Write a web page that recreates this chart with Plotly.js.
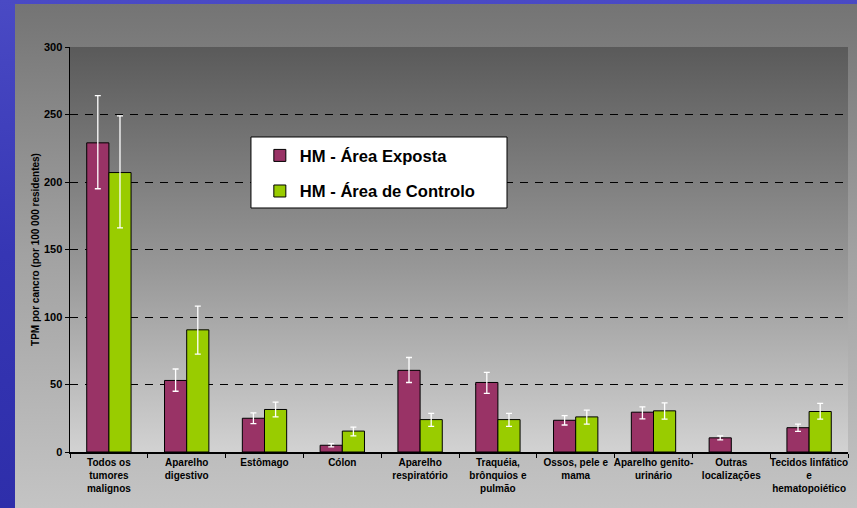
<!DOCTYPE html>
<html>
<head>
<meta charset="utf-8">
<script src="https://cdn.plot.ly/plotly-3.0.1.min.js"></script>
<style>
  html, body { margin:0; padding:0; width:857px; height:508px; overflow:hidden;
    background: linear-gradient(180deg, #4a4ac4 0%, #3636b4 50%, #2e2eaa 100%); }
  #panel { position:absolute; left:15px; top:4px; width:842px; height:504px;
    background: linear-gradient(180deg, #747474 0%, #a2a2a2 50%, #c4c4c4 100%); }
  #plotbg { position:absolute; left:70px; top:47px; width:778px; height:405px;
    background: linear-gradient(180deg, #5a5a5a 0%, #989898 55%, #d2d2d2 100%); }
  #chart { position:absolute; left:0; top:0; width:857px; height:508px; }
</style>
</head>
<body>
<div id="panel"></div>
<div id="plotbg"></div>
<div id="chart"></div>
<script>
const categories = [
  "Todos os<br>tumores<br>malignos",
  "Aparelho<br>digestivo",
  "Estômago",
  "Cólon",
  "Aparelho<br>respiratório",
  "Traquéia,<br>brônquios e<br>pulmão",
  "Ossos, pele e<br>mama",
  "Aparelho genito-<br>urinário",
  "Outras<br>localizações",
  "Tecidos linfático<br>e<br>hematopoiético"
];
const seriesNames = ["HM - Área Exposta", "HM - Área de Controlo"];

const exposta      = [229, 53, 25, 5, 60.5, 51.5, 23.5, 29.5, 10.5, 18];
const expostaUpper = [264, 61.5, 29, 6.2, 70, 59, 27, 33.5, 12, 20.7];
const expostaLower = [195, 45, 21, 3.8, 51.5, 43.5, 20, 24.6, 9, 15.3];

const controlo      = [207, 90.5, 31.5, 15.5, 24, 24, 26, 30.5, null, 30];
const controloUpper = [249, 108, 37, 18.5, 28.6, 28.6, 31, 36.4, null, 36];
const controloLower = [166, 72.5, 26, 12, 19, 19, 20.7, 24.4, null, 24.4];

function plus(v, u) { return v.map((x, i) => x == null ? null : u[i] - x); }
function minus(v, l) { return v.map((x, i) => x == null ? null : x - l[i]); }

const font = { family: "Liberation Sans, Arial, sans-serif", color: "#000" };

const traces = [
  {
    type: "bar", name: seriesNames[0], x: categories, y: exposta,
    legendgroup: "a",
    marker: { color: "#993366", line: { color: "#000", width: 1 } },
    error_y: { type: "data", symmetric: false, array: plus(exposta, expostaUpper),
      arrayminus: minus(exposta, expostaLower), color: "#ffffff", thickness: 1.3, width: 3 }
  },
  {
    type: "bar", name: seriesNames[1], x: categories, y: controlo,
    legendgroup: "b",
    marker: { color: "#99cc00", line: { color: "#000", width: 1 } },
    error_y: { type: "data", symmetric: false, array: plus(controlo, controloUpper),
      arrayminus: minus(controlo, controloLower), color: "#ffffff", thickness: 1.3, width: 3 }
  }
];

const layout = {
  width: 857, height: 508,
  margin: { l: 70, r: 9, t: 47, b: 56, pad: 0 },
  paper_bgcolor: "rgba(0,0,0,0)",
  plot_bgcolor: "rgba(0,0,0,0)",
  barmode: "group", bargap: 0.43, bargroupgap: 0,
  showlegend: true,
  legend: {
    x: 0.244, y: 0.775, xanchor: "left", yanchor: "top",
    bgcolor: "rgba(0,0,0,0)", borderwidth: 0,
    tracegroupgap: 11, itemwidth: 30,
    font: Object.assign({}, font, { size: 16.6, weight: "bold" })
  },
  shapes: [
    { type: "rect", xref: "paper", yref: "paper",
      x0: 0.2326, x1: 0.5617, y0: 0.6025, y1: 0.7778,
      fillcolor: "#ffffff", line: { color: "#000", width: 1 }, layer: "above" }
  ],
  xaxis: {
    type: "category",
    tickson: "boundaries", ticks: "outside", ticklen: 4, tickcolor: "#000",
    showline: true, linecolor: "#000", linewidth: 1.5,
    showgrid: false, zeroline: false,
    tickangle: 0,
    tickfont: Object.assign({}, font, { size: 10, weight: "bold" })
  },
  yaxis: {
    range: [0, 300], dtick: 50, tick0: 0,
    ticks: "outside", ticklen: 4, tickcolor: "#000",
    showline: true, linecolor: "#000", linewidth: 1.5,
    showgrid: true, gridcolor: "#000", gridwidth: 1, griddash: "8px,7px",
    zeroline: false,
    tickfont: Object.assign({}, font, { size: 11, weight: "bold" }),
    title: { text: "TPM por cancro (por 100 000 residentes)", standoff: 2,
      font: Object.assign({}, font, { size: 10, weight: "bold" }) }
  }
};

Plotly.newPlot("chart", traces, layout, { displayModeBar: false, staticPlot: true });
</script>
</body>
</html>
